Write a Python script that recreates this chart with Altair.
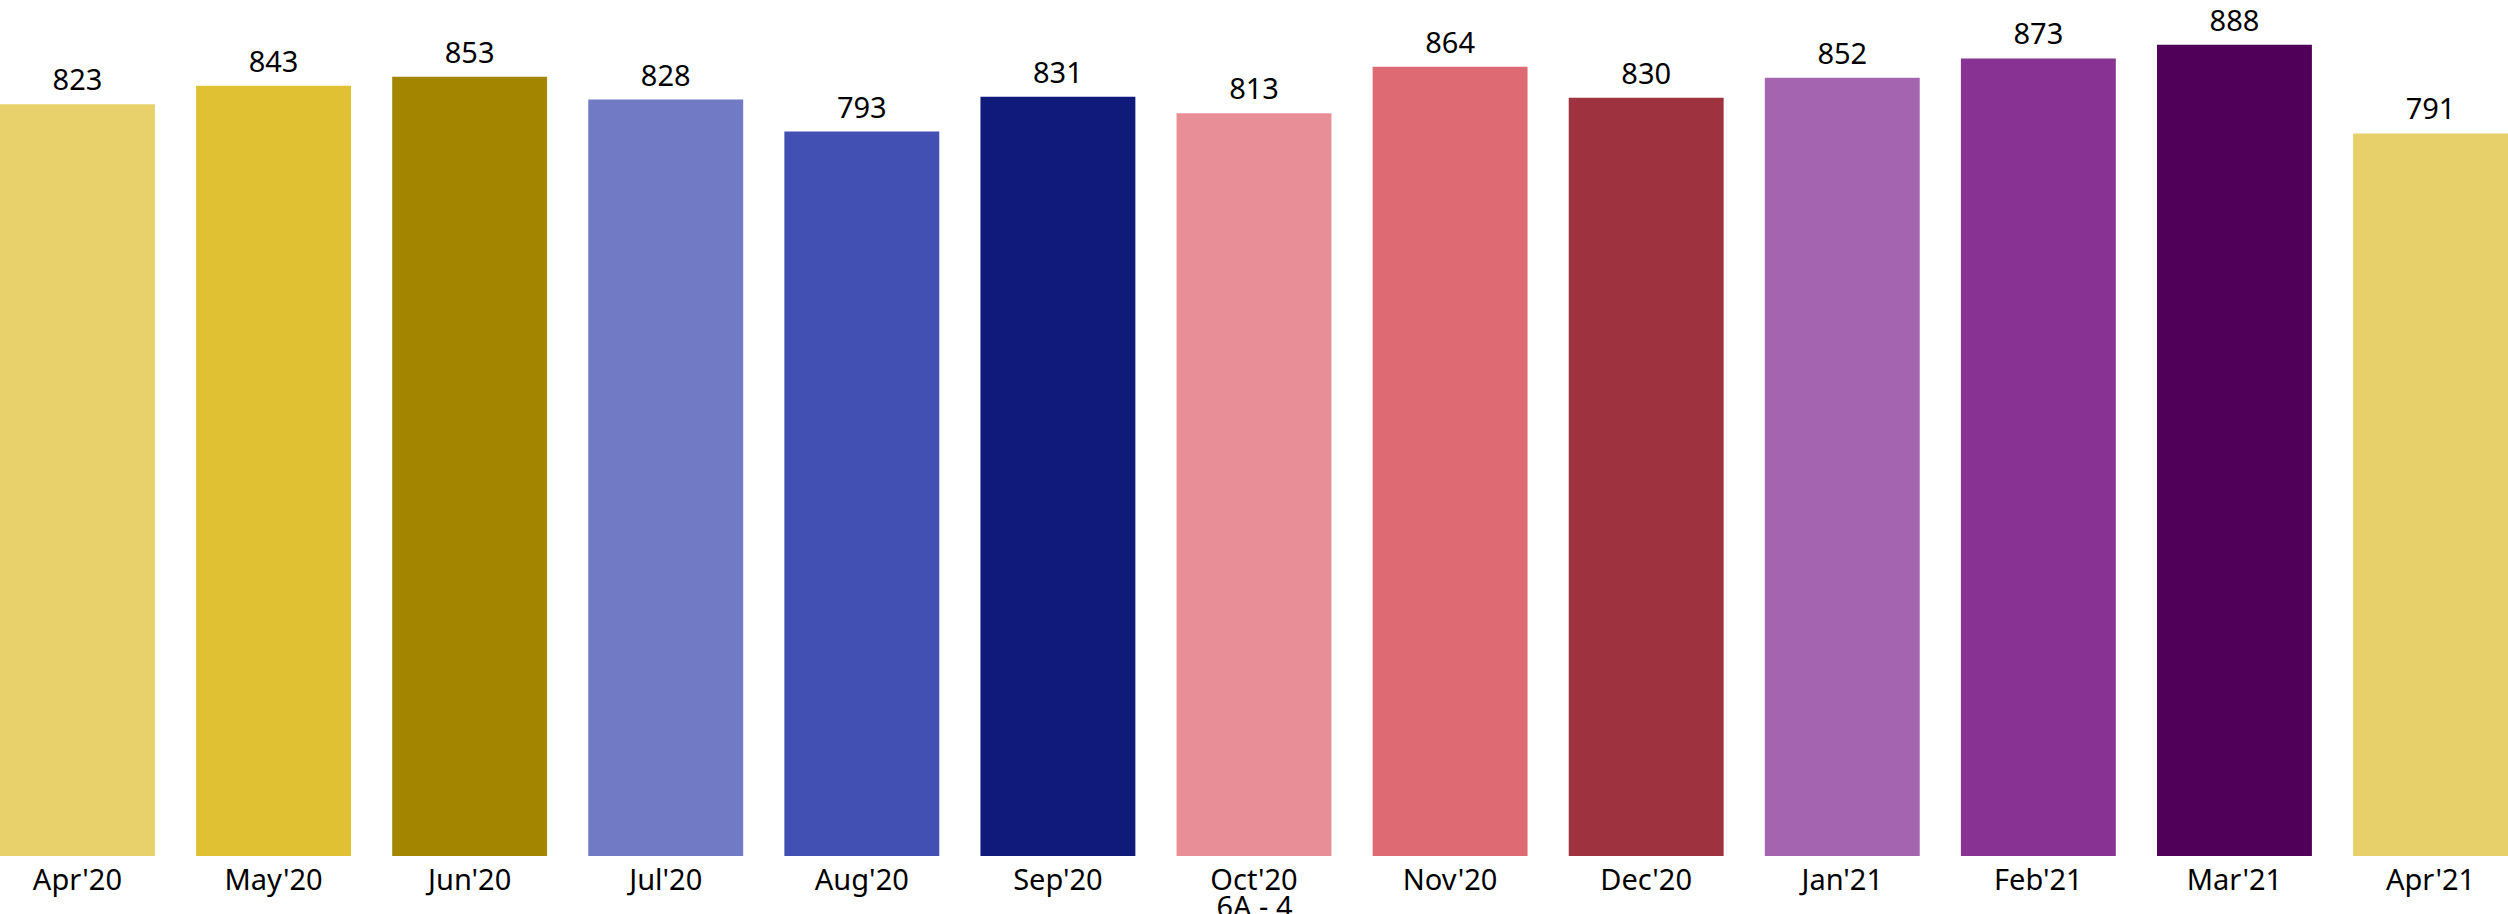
import altair as alt
import pandas as pd

months = ["Apr'20", "May'20", "Jun'20", "Jul'20", "Aug'20", "Sep'20", "Oct'20",
          "Nov'20", "Dec'20", "Jan'21", "Feb'21", "Mar'21", "Apr'21 "]
values = [823, 843, 853, 828, 793, 831, 813, 864, 830, 852, 873, 888, 791]
colors = ["#E8D16A", "#E0C133", "#A38500", "#717AC4", "#4150B2", "#0F1A7A", "#E78E96",
          "#DE6A73", "#9E323F", "#A564B0", "#883393", "#500058", "#E7D06A"]
x_title = "6A - 4"

df = pd.DataFrame({"month": months, "value": values, "color": colors})

FONT = "Noto Sans"

x = alt.X("month:N", sort=months,
          scale=alt.Scale(paddingInner=0.21, paddingOuter=0),
          axis=alt.Axis(title=x_title, labelAngle=0, labelFontSize=29, labelColor="#000000",
                        labelFont=FONT, titleFont=FONT, titleFontSize=29, titleFontWeight="normal",
                        titleColor="#000000", titlePadding=-2, labelPadding=10, ticks=False,
                        domain=False, labelExpr="trim(datum.label)"))
y = alt.Y("value:Q", scale=alt.Scale(domain=[0, 937], nice=False, zero=True), axis=None)

bars = alt.Chart(df).mark_bar().encode(
    x=x, y=y, color=alt.Color("color:N", scale=None))
labels = alt.Chart(df).mark_text(font=FONT, fontSize=29, color="#000000", baseline="alphabetic",
                                 dy=-14).encode(x=x, y=y, text=alt.Text("value:Q"))

chart = (bars + labels).properties(
    width=2508, height=856,
    padding={"left": 0, "right": 0, "top": 0, "bottom": 58},
    autosize=alt.AutoSizeParams(type="none"),
).configure_view(stroke=None)

chart.save("out.html", embed_options={"renderer": "svg", "actions": False})
